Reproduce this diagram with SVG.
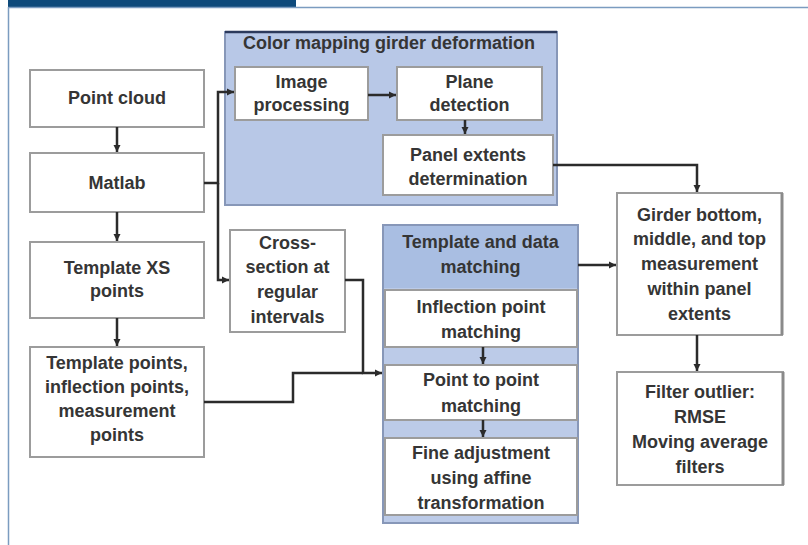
<svg xmlns="http://www.w3.org/2000/svg" width="808" height="545" viewBox="0 0 808 545">
<defs>
<marker id="arr" markerUnits="userSpaceOnUse" markerWidth="8" markerHeight="8" refX="7" refY="4" orient="auto">
<path d="M0,0.5 L7,4 L0,7.5 Z" fill="#2b2b2b"/>
</marker>
<style>
.box{fill:#fff;stroke:#9c9c9c;stroke-width:2}
.grp{stroke:#8797b8;stroke-width:2}
.t{font-family:"Liberation Sans",Arial,sans-serif;font-weight:bold;font-size:18px;fill:#353535;text-anchor:middle}
.c{fill:none;stroke:#2b2b2b;stroke-width:2.5}
.ca{fill:none;stroke:#2b2b2b;stroke-width:2.5;marker-end:url(#arr)}
</style>
</defs>
<rect x="0" y="0" width="808" height="545" fill="#fff"/>
<rect x="8" y="0" width="288" height="7" fill="#0e4a7b"/>
<line x1="8" y1="7.5" x2="808" y2="7.5" stroke="#7b9cc0" stroke-width="1.5"/>
<line x1="8.5" y1="7" x2="8.5" y2="545" stroke="#7b9cc0" stroke-width="1.5"/>

<g id="point-cloud"><rect class="box" x="30" y="70" width="174" height="57"/><text class="t" x="117" y="104">Point cloud</text></g>
<g id="matlab"><rect class="box" x="30" y="153" width="174" height="59"/><text class="t" x="117" y="189">Matlab</text></g>
<g id="template-xs"><rect class="box" x="30" y="242" width="174" height="76"/><text class="t" x="117" y="274">Template XS</text><text class="t" x="117" y="297">points</text></g>
<g id="template-points"><rect class="box" x="30" y="347" width="174" height="110"/><text class="t" x="117" y="369">Template points,</text><text class="t" x="117" y="393">inflection points,</text><text class="t" x="117" y="417">measurement</text><text class="t" x="117" y="441">points</text></g>

<g id="color-mapping">
<rect class="grp" x="225" y="32" width="332" height="173" fill="#b8c8e7"/>
<line x1="225" y1="32" x2="557" y2="32" stroke="#2c3a5c" stroke-width="2.5"/>
<text class="t" x="389" y="49">Color mapping girder deformation</text>
<g id="image-processing"><rect class="box" x="235" y="67" width="133" height="53"/><text class="t" x="301.5" y="88">Image</text><text class="t" x="301.5" y="111">processing</text></g>
<g id="plane-detection"><rect class="box" x="397" y="67" width="145" height="53"/><text class="t" x="469.5" y="88">Plane</text><text class="t" x="469.5" y="111">detection</text></g>
<g id="panel-extents"><rect class="box" x="383" y="135" width="170" height="60"/><text class="t" x="468" y="161">Panel extents</text><text class="t" x="468" y="185">determination</text></g>
</g>

<g id="cross-section"><rect class="box" x="230" y="230" width="115" height="102"/><text class="t" x="287.5" y="249">Cross-</text><text class="t" x="287.5" y="273">section at</text><text class="t" x="287.5" y="298">regular</text><text class="t" x="287.5" y="323">intervals</text></g>

<g id="template-matching">
<rect class="grp" x="383" y="225" width="195" height="298" fill="#bccbe8"/>
<rect x="384" y="226" width="193" height="62" fill="#a9bee2"/>
<text class="t" x="480.5" y="248">Template and data</text>
<text class="t" x="480.5" y="273">matching</text>
<g id="inflection"><rect class="box" x="385" y="290" width="192" height="57"/><text class="t" x="481" y="313">Inflection point</text><text class="t" x="481" y="338">matching</text></g>
<g id="point-to-point"><rect class="box" x="385" y="365" width="192" height="55"/><text class="t" x="481" y="386">Point to point</text><text class="t" x="481" y="412">matching</text></g>
<g id="fine-adjustment"><rect class="box" x="385" y="438" width="192" height="77"/><text class="t" x="481" y="459">Fine adjustment</text><text class="t" x="481" y="484">using affine</text><text class="t" x="481" y="509">transformation</text></g>
</g>

<g id="girder"><rect class="box" x="617" y="193" width="165" height="142"/><line x1="782" y1="193" x2="782" y2="335" stroke="#8a8a8a" stroke-width="3"/><text class="t" x="699.5" y="221">Girder bottom,</text><text class="t" x="699.5" y="245">middle, and top</text><text class="t" x="699.5" y="270">measurement</text><text class="t" x="699.5" y="295">within panel</text><text class="t" x="699.5" y="320">extents</text></g>
<g id="filter"><rect class="box" x="617" y="372" width="166" height="113"/><line x1="783" y1="372" x2="783" y2="485" stroke="#8a8a8a" stroke-width="3"/><text class="t" x="700" y="398">Filter outlier:</text><text class="t" x="700" y="423">RMSE</text><text class="t" x="700" y="448">Moving average</text><text class="t" x="700" y="473">filters</text></g>

<g id="connectors">
<path class="ca" d="M117 127 V152"/>
<path class="ca" d="M117 212 V241"/>
<path class="ca" d="M117 318 V346"/>
<path class="ca" d="M204 183 H218 V92 H234"/>
<path class="ca" d="M218 183 V280 H229"/>
<path class="ca" d="M368 95 H396"/>
<path class="ca" d="M465 120 V134"/>
<path class="ca" d="M553 165 H697 V192"/>
<path class="ca" d="M578 265 H616"/>
<path class="ca" d="M345 280 H363 V373 H382"/>
<path class="c" d="M204 402 H293 V373 H363"/>
<path class="ca" d="M483 347 V364"/>
<path class="ca" d="M483 420 V437"/>
<path class="ca" d="M697 335 V371"/>
</g>
</svg>
